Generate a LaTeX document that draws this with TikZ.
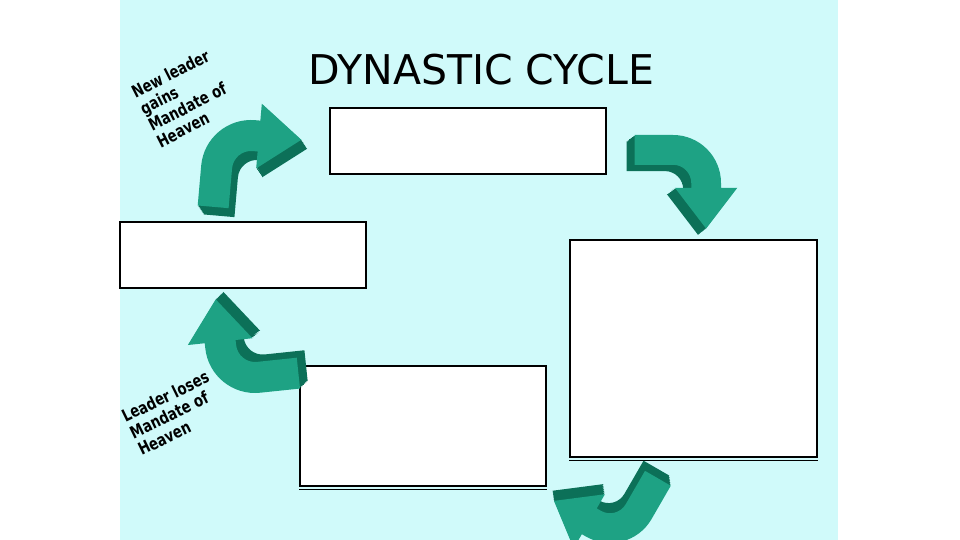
\documentclass[tikz,border=0pt]{standalone}
\usepackage{fontspec}
\setmainfont{DejaVu Sans}
\newfontfamily\handfont[FakeStretch=0.78]{DejaVu Sans}
\definecolor{slidebg}{RGB}{208,250,250}
\definecolor{arrowface}{RGB}{30,162,132}
\definecolor{arrowside}{RGB}{12,112,88}
\newcommand{\turnpath}{(-1,-0.8) -- (-1,0) arc (180:90:1) -- (0.1,1) -- (0.1,1.34) -- (0.95,0.69) -- (0.1,0.04) -- (0.1,0.38) -- (0,0.38) arc (90:180:0.38) -- (-0.38,-0.8) -- cycle}
\tikzset{
    turnarrow/.pic={
        \foreach \d in {6,...,1}
            \fill[arrowside, shift={(0.022*\d,-0.028*\d)}] \turnpath;
        \fill[arrowface] \turnpath;
    },
    emptybox/.style={draw=black, line width=1.2pt, fill=white, inner sep=0pt},
    slanted/.style={rotate=#1, anchor=north west, align=left, inner sep=0pt, font=\handfont\bfseries\fontsize{17}{18.5}\selectfont},
}
\begin{document}
\begin{tikzpicture}[x=1pt,y=1pt]
    \clip (0,0) rectangle (960,540);
    \fill[white] (0,0) rectangle (960,540);
    \fill[slidebg] (120,0) rectangle (838,540);

    \node (title) at (481,470) {\fontsize{41}{46}\selectfont DYNASTIC CYCLE};

    \node[emptybox, minimum width=276, minimum height=66] (rise) at (468,399) {};
    \node[emptybox, minimum width=247, minimum height=217] (peak) at (693.5,191.5) {};
    \node[emptybox, minimum width=246, minimum height=120] (fall) at (423,114) {};
    \node[emptybox, minimum width=246, minimum height=66] (start) at (243,285) {};
    \draw[line width=0.8pt] ([yshift=-2.5]peak.south west) -- ([yshift=-2.5]peak.south east);
    \draw[line width=0.8pt] ([yshift=-2.5]fall.south west) -- ([yshift=-2.5]fall.south east);

    \pic[rotate=-5, scale=50] at (251,370) {turnarrow};
    \pic[rotate=-90, scale=48] at (673,357) {turnarrow};
    \pic[rotate=150, scale=48] at (610,45) {turnarrow};
    \pic[rotate=96, scale=50] at (255,197) {turnarrow};

    \node[slanted=27] (gain) at (129.5,453) {New leader\\gains\\Mandate of\\Heaven};
    \node[slanted=26] (lose) at (119.7,129) {Leader loses\\Mandate of\\Heaven};
\end{tikzpicture}
\end{document}
